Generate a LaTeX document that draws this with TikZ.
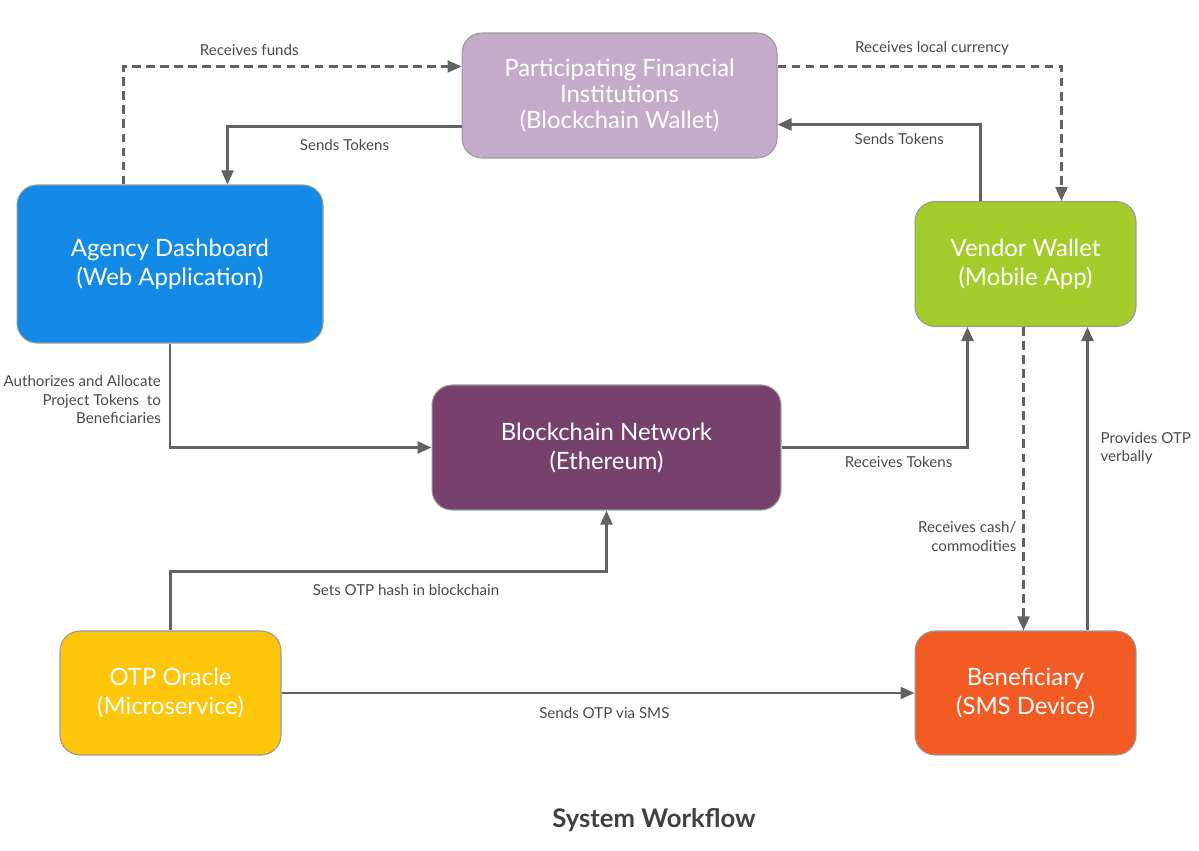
\documentclass[tikz,border=0pt]{standalone}
\usepackage{fontspec}
\setmainfont{Lato}
\usetikzlibrary{arrows.meta}
\definecolor{wire}{HTML}{626262}
\definecolor{wiretext}{HTML}{4A4A4A}
\definecolor{pficol}{HTML}{C3ABC9}
\definecolor{agencycol}{HTML}{138AE6}
\definecolor{vendorcol}{HTML}{A4CC2A}
\definecolor{chaincol}{HTML}{76416D}
\definecolor{oraclecol}{HTML}{FEC60B}
\definecolor{benefcol}{HTML}{F35B24}
\definecolor{titlecol}{HTML}{404040}

\begin{document}
\begin{tikzpicture}[x=0.02cm, y=-0.02cm,
    block/.style={rectangle, rounded corners=0.4cm, draw=black!40, line width=0.6pt,
        text=white, align=center, font=\fontsize{13.6}{16.5}\selectfont,
        minimum width=4.42cm, minimum height=2.5cm, inner sep=2pt},
    flow/.style={draw=wire, line width=1.3pt, -{Triangle[length=0.28cm,width=0.24cm]}},
    flowdash/.style={flow, dash pattern=on 5pt off 3pt},
    lbl/.style={text=wiretext, font=\fontsize{8.6}{10.4}\selectfont, inner sep=0pt}]

    % Fix the page size
    \useasboundingbox (0,0) rectangle (1199,851);

    % Draw the blocks
    \node[block, fill=pficol, minimum width=6.3cm, font=\fontsize{13.6}{14.6}\selectfont] (pfi) at (619.5,95.5)
        {Participating Financial\\Institutions\\(Blockchain Wallet)};
    \node[block, fill=agencycol, minimum width=6.12cm, minimum height=3.16cm] (agency) at (170,264)
        {Agency Dashboard\\(Web Application)};
    \node[block, fill=vendorcol] (vendor) at (1025.5,264) {Vendor Wallet\\(Mobile App)};
    \node[block, fill=chaincol, minimum width=6.98cm] (chain) at (606.5,447.5)
        {Blockchain Network\\(Ethereum)};
    \node[block, fill=oraclecol, minimum height=2.48cm] (oracle) at (170.5,693)
        {OTP Oracle\\(Microservice)};
    \node[block, fill=benefcol, minimum height=2.48cm] (benef) at (1025.5,693)
        {Beneficiary\\(SMS Device)};

    % Funds and tokens around the financial institutions
    \draw[flowdash] ([xshift=2.14cm]agency.north west) |- ([yshift=-0.68cm]pfi.north west)
        node[lbl, pos=0.686, above=0.2cm] {Receives funds};
    \draw[flow] ([yshift=-1.88cm]pfi.north west) -| ([xshift=4.22cm]agency.north west)
        node[lbl, pos=0.25, below=0.24cm] {Sends Tokens};
    \draw[flowdash] ([yshift=-0.68cm]pfi.north east) -| ([xshift=2.94cm]vendor.north west)
        node[lbl, pos=0.272, above=0.2cm] {Receives local currency};
    \draw[flow] ([xshift=1.32cm]vendor.north west) |- ([yshift=-1.84cm]pfi.north east)
        node[lbl, pos=0.70, below=0.16cm] {Sends Tokens};

    % Tokens through the blockchain
    \draw[flow] (agency.south) |- (chain.west)
        node[lbl, pos=0.27, left=0.16cm, align=right] {Authorizes and Allocate\\Project Tokens\ \ to\\Beneficiaries};
    \draw[flow] (chain.east) -| ([xshift=1.06cm]vendor.south west)
        node[lbl, pos=0.315, below=0.16cm] {Receives Tokens};

    % Vendor and beneficiary
    \draw[flowdash] ([xshift=2.18cm]vendor.south west) -- ([xshift=2.18cm]benef.north west)
        node[lbl, pos=0.69, left=0.12cm, align=right] {Receives cash/\\commodities};
    \draw[flow] ([xshift=3.46cm]benef.north west) -- ([xshift=3.46cm]vendor.south west)
        node[lbl, pos=0.6, right=0.24cm, align=left] {Provides OTP\\verbally};

    % OTP oracle
    \draw[flow] (oracle.north) |- node[lbl, pos=0.77, below=0.24cm] {Sets OTP hash in blockchain}
        ([yshift=-1.22cm]chain.south) -- (chain.south);
    \draw[flow] (oracle.east) -- (benef.west)
        node[lbl, pos=0.51, below=0.26cm] {Sends OTP via SMS};

    % Title
    \node[text=titlecol, font=\fontsize{14.6}{17}\selectfont\bfseries] (title) at (654,820) {System Workflow};

\end{tikzpicture}
\end{document}
